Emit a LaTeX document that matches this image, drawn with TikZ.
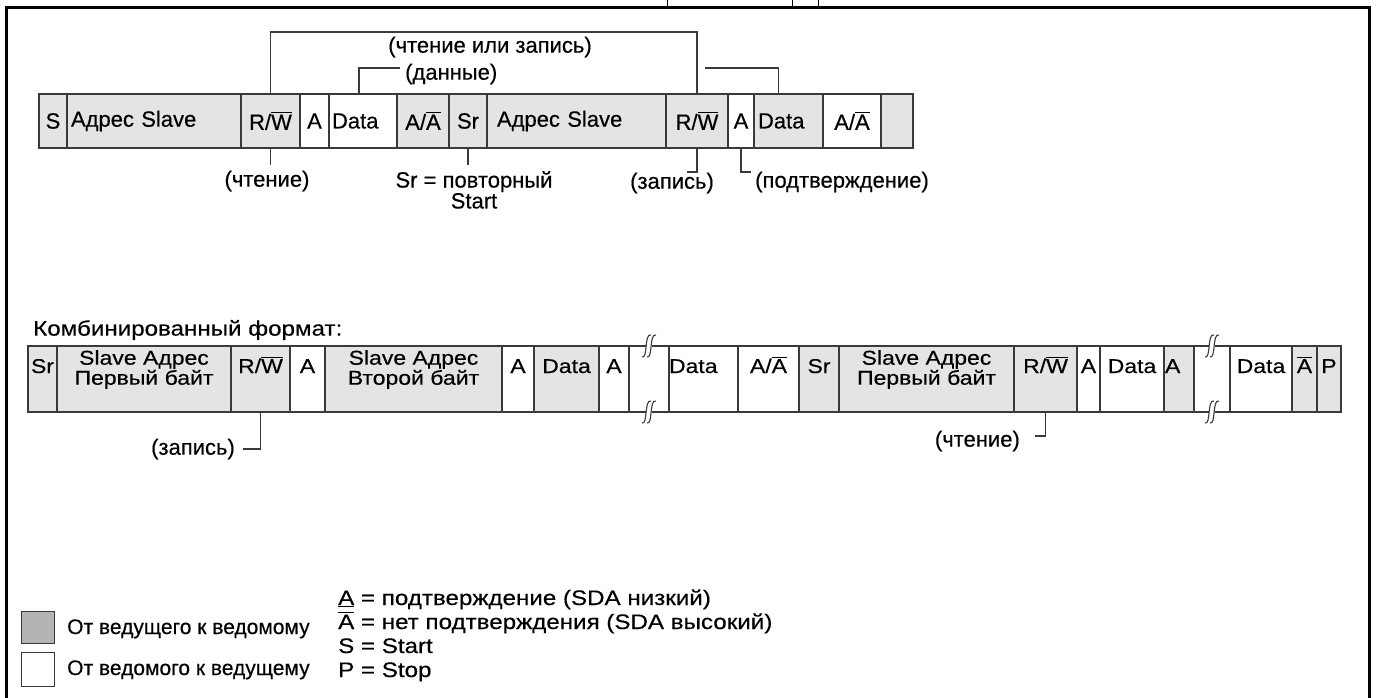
\documentclass[tikz,border=0pt]{standalone}
\usepackage{fontspec}
\setmainfont[FakeBold=0.35]{Liberation Sans}
\newfontfamily\widefont[FakeStretch=1.15,FakeBold=0.35]{Liberation Sans}
\newcommand\ovl[1]{\leavevmode\vbox{\hrule height 1.3pt\kern 1.3pt\hbox{#1}}}
\newcommand\fntA{\fontsize{22}{26}\selectfont}
\newcommand\fntS{\fontsize{22}{19}\selectfont}
\newcommand\fntB{\widefont\fontsize{20}{24}\selectfont}
\newcommand\fntBB{\widefont\fontsize{20}{20}\selectfont}
\newcommand\fntC{\widefont\fontsize{21}{24}\selectfont}
\newcommand\fntL{\fontsize{21}{24}\selectfont}
\newcommand\fntR{\widefont\fontsize{21}{24}\selectfont}
\definecolor{cellgray}{HTML}{E4E4E4}
\definecolor{leggray}{HTML}{B4B4B4}
\definecolor{edgec}{HTML}{3A3A3A}
\newcommand\breakmark[1]{%
  \begin{scope}[shift={#1}]
    \fill[white] (2,-11) .. controls (-5,-13) and (-1,13) .. (-7,11) -- (-2,11) .. controls (5,13) and (1,-13) .. (7,-11) -- cycle;
    \draw[edgec, line width=1.1pt] (2,-11) .. controls (-5,-13) and (-1,13) .. (-7,11);
    \draw[edgec, line width=1.1pt] (7,-11) .. controls (0,-13) and (4,13) .. (-2,11);
  \end{scope}}
\begin{document}
\begin{tikzpicture}[x=1pt,y=-1pt,
  edge/.style={draw=edgec, line width=1.3pt},
  cg/.style={edge, fill=cellgray, anchor=north west, inner sep=0pt, outer sep=0pt, font=\fntA, minimum height=54pt},
  cw/.style={cg, fill=white},
  dg/.style={edge, fill=cellgray, anchor=north west, inner sep=0pt, outer sep=0pt, font=\fntB, text height=27pt, text depth=39pt},
  dw/.style={dg, fill=white},
  conn/.style={draw=edgec, line width=1.3pt},
  lbl/.style={inner sep=0pt, font=\fntA},
  t2/.style={inner sep=0pt, anchor=north, align=center, font=\fntBB},
  lg/.style={inner sep=0pt, font=\fntL, anchor=base west},
  lgr/.style={lg, font=\fntR},
  legbox/.style={draw=edgec, line width=1.3pt, anchor=north west, inner sep=0pt, minimum width=33pt},
]
\useasboundingbox (0,0) rectangle (1378,697);
\fill[white] (0,0) rectangle (1378,697);
% frame
\draw[line width=3.5pt] (6.5,7.5) rectangle (1369.5,712);
\draw[line width=1pt] (667,0) -- (667,7);
\draw[line width=1pt] (792,0) -- (792,7);
\draw[line width=1pt] (818,0) -- (818,7);

% ---------- row 1 ----------
\node[cg, minimum width=28pt] (s1) at (39,94) {S};
\node[cg, text width=174pt, align=left] (a1) at (67,94) {\hspace*{4pt}Адрес Slave};
\node[cg, minimum width=59pt] (rw1) at (241,94) {R/\ovl{W}};
\node[cw, minimum width=29pt] (k1) at (300,94) {A};
\node[cw, text width=68pt, align=left] (d1) at (329,94) {\hspace*{3pt}Data};
\node[cg, minimum width=52pt] (aa1) at (397,94) {A/\ovl{A}};
\node[cg, minimum width=38pt] (sr1) at (449,94) {Sr};
\node[cg, text width=179pt, align=left] (a2) at (487,94) {\hspace*{10pt}Адрес Slave};
\node[cg, minimum width=62pt] (rw2) at (666,94) {R/\ovl{W}};
\node[cw, minimum width=26pt] (k2) at (728,94) {A};
\node[cg, text width=69pt, align=left] (d2) at (754,94) {\hspace*{4pt}Data};
\node[cw, minimum width=58pt] (aa2) at (823,94) {A/\ovl{A}};
\node[cg, minimum width=32pt] (e1) at (881,94) {};

% brackets above row 1
\node[lbl] (chz) at (490,47) {(чтение или запись)};
\draw[conn] (rw1.north) -- ++(0,-62) -| (rw2.north);
\node[lbl, anchor=west] (dan) at (405,74) {(данные)};
\draw[conn] ([xshift=-4pt]d1.north) |- ([xshift=-5pt,yshift=6pt]dan.west);
\coordinate (dr) at (705,68);
\draw[conn] ([xshift=-10pt]d2.north) |- (dr);

% labels below row 1
\node[lbl] (cht1) at (267,181) {(чтение)};
\draw[conn] (rw1.south) -- ++(0,17);
\node[lbl, align=center, anchor=north, font=\fntS] (srl) at (474,171) {Sr = повторный\\Start};
\draw[conn] (sr1.south) -- ++(0,17);
\node[lbl] (zap1) at (672,183) {(запись)};
\draw[conn] (rw2.south) -- ++(0,24) -- ++(-10,0);
\node[lbl, anchor=west] (pod) at (755,182) {(подтверждение)};
\draw[conn] (k2.south) -- ++(0,24) -- ++(10,0);

% ---------- row 2 ----------
\node[inner sep=0pt, anchor=west, font=\fntC] (title) at (33,330) {Комбинированный формат:};
\node[dg, minimum width=29pt] (sr3) at (28,346) {Sr};
\node[dg, minimum width=174pt] (sa1) at (57,346) {};
\node[dg, minimum width=59pt] (rw3) at (231,346) {R/\ovl{W}};
\node[dw, minimum width=35pt] (k3) at (290,346) {A};
\node[dg, minimum width=177pt] (sa2) at (325,346) {};
\node[dw, minimum width=32pt] (k4) at (502,346) {A};
\node[dg, minimum width=65pt] (d3) at (534,346) {Data};
\node[dw, minimum width=30pt] (k5) at (599,346) {A};
\node[dw, minimum width=40pt] (g1) at (629,346) {};
\node[dw, text width=69pt, align=left] (d4) at (669,346) {Data};
\node[dw, minimum width=61pt] (aa3) at (738,346) {A/\ovl{A}};
\node[dg, minimum width=40pt] (sr4) at (799,346) {Sr};
\node[dg, minimum width=175pt] (sa3) at (839,346) {};
\node[dg, minimum width=63pt] (rw4) at (1014,346) {R/\ovl{W}};
\node[dw, minimum width=23pt] (k6) at (1077,346) {A};
\node[dw, minimum width=64pt] (d5) at (1100,346) {Data};
\node[dg, text width=30pt, align=left] (k7) at (1164,346) {\hspace*{1pt}A};
\node[dw, minimum width=36pt] (g2) at (1194,346) {};
\node[dw, minimum width=62pt] (d6) at (1230,346) {Data};
\node[dg, minimum width=25pt] (na) at (1292,346) {\ovl{A}};
\node[dg, minimum width=24pt] (p) at (1317,346) {P};
\draw[edgec, line width=2pt] (sr3.south west) -- (p.south east);

\node[t2] (sa1t) at ([yshift=-4pt]sa1.north) {Slave Адрес\\Первый байт};
\node[t2] (sa2t) at ([yshift=-4pt]sa2.north) {Slave Адрес\\Второй байт};
\node[t2] (sa3t) at ([yshift=-4pt]sa3.north) {Slave Адрес\\Первый байт};

\breakmark{(g1.north)}
\breakmark{(g1.south)}
\breakmark{(g2.north)}
\breakmark{(g2.south)}

% labels below row 2
\node[lbl, anchor=east] (zap2) at (235,449) {(запись)};
\draw[conn] (rw3.south) |- ([xshift=8pt]zap2.east);
\node[lbl, anchor=east] (cht2) at (1020,441) {(чтение)};
\draw[conn] (rw4.south) |- ([xshift=15pt,yshift=5pt]cht2.east);

% ---------- legend ----------
\node[legbox, fill=leggray, minimum height=32pt] (lgm) at (21,611) {};
\node[legbox, fill=white, minimum height=34pt] (lgs) at (21,652) {};
\node[lg] (lt1) at (67,634) {От ведущего к ведомому};
\node[lg] (lt2) at (67,675) {От ведомого к ведущему};
\node[lgr] (r1) at (338,605) {\underline{A} = подтверждение (SDA низкий)};
\node[lgr] (r2) at (338,629) {\ovl{A} = нет подтверждения (SDA высокий)};
\node[lgr] (r3) at (338,653) {S = Start};
\node[lgr] (r4) at (338,677) {P = Stop};
\end{tikzpicture}
\end{document}
